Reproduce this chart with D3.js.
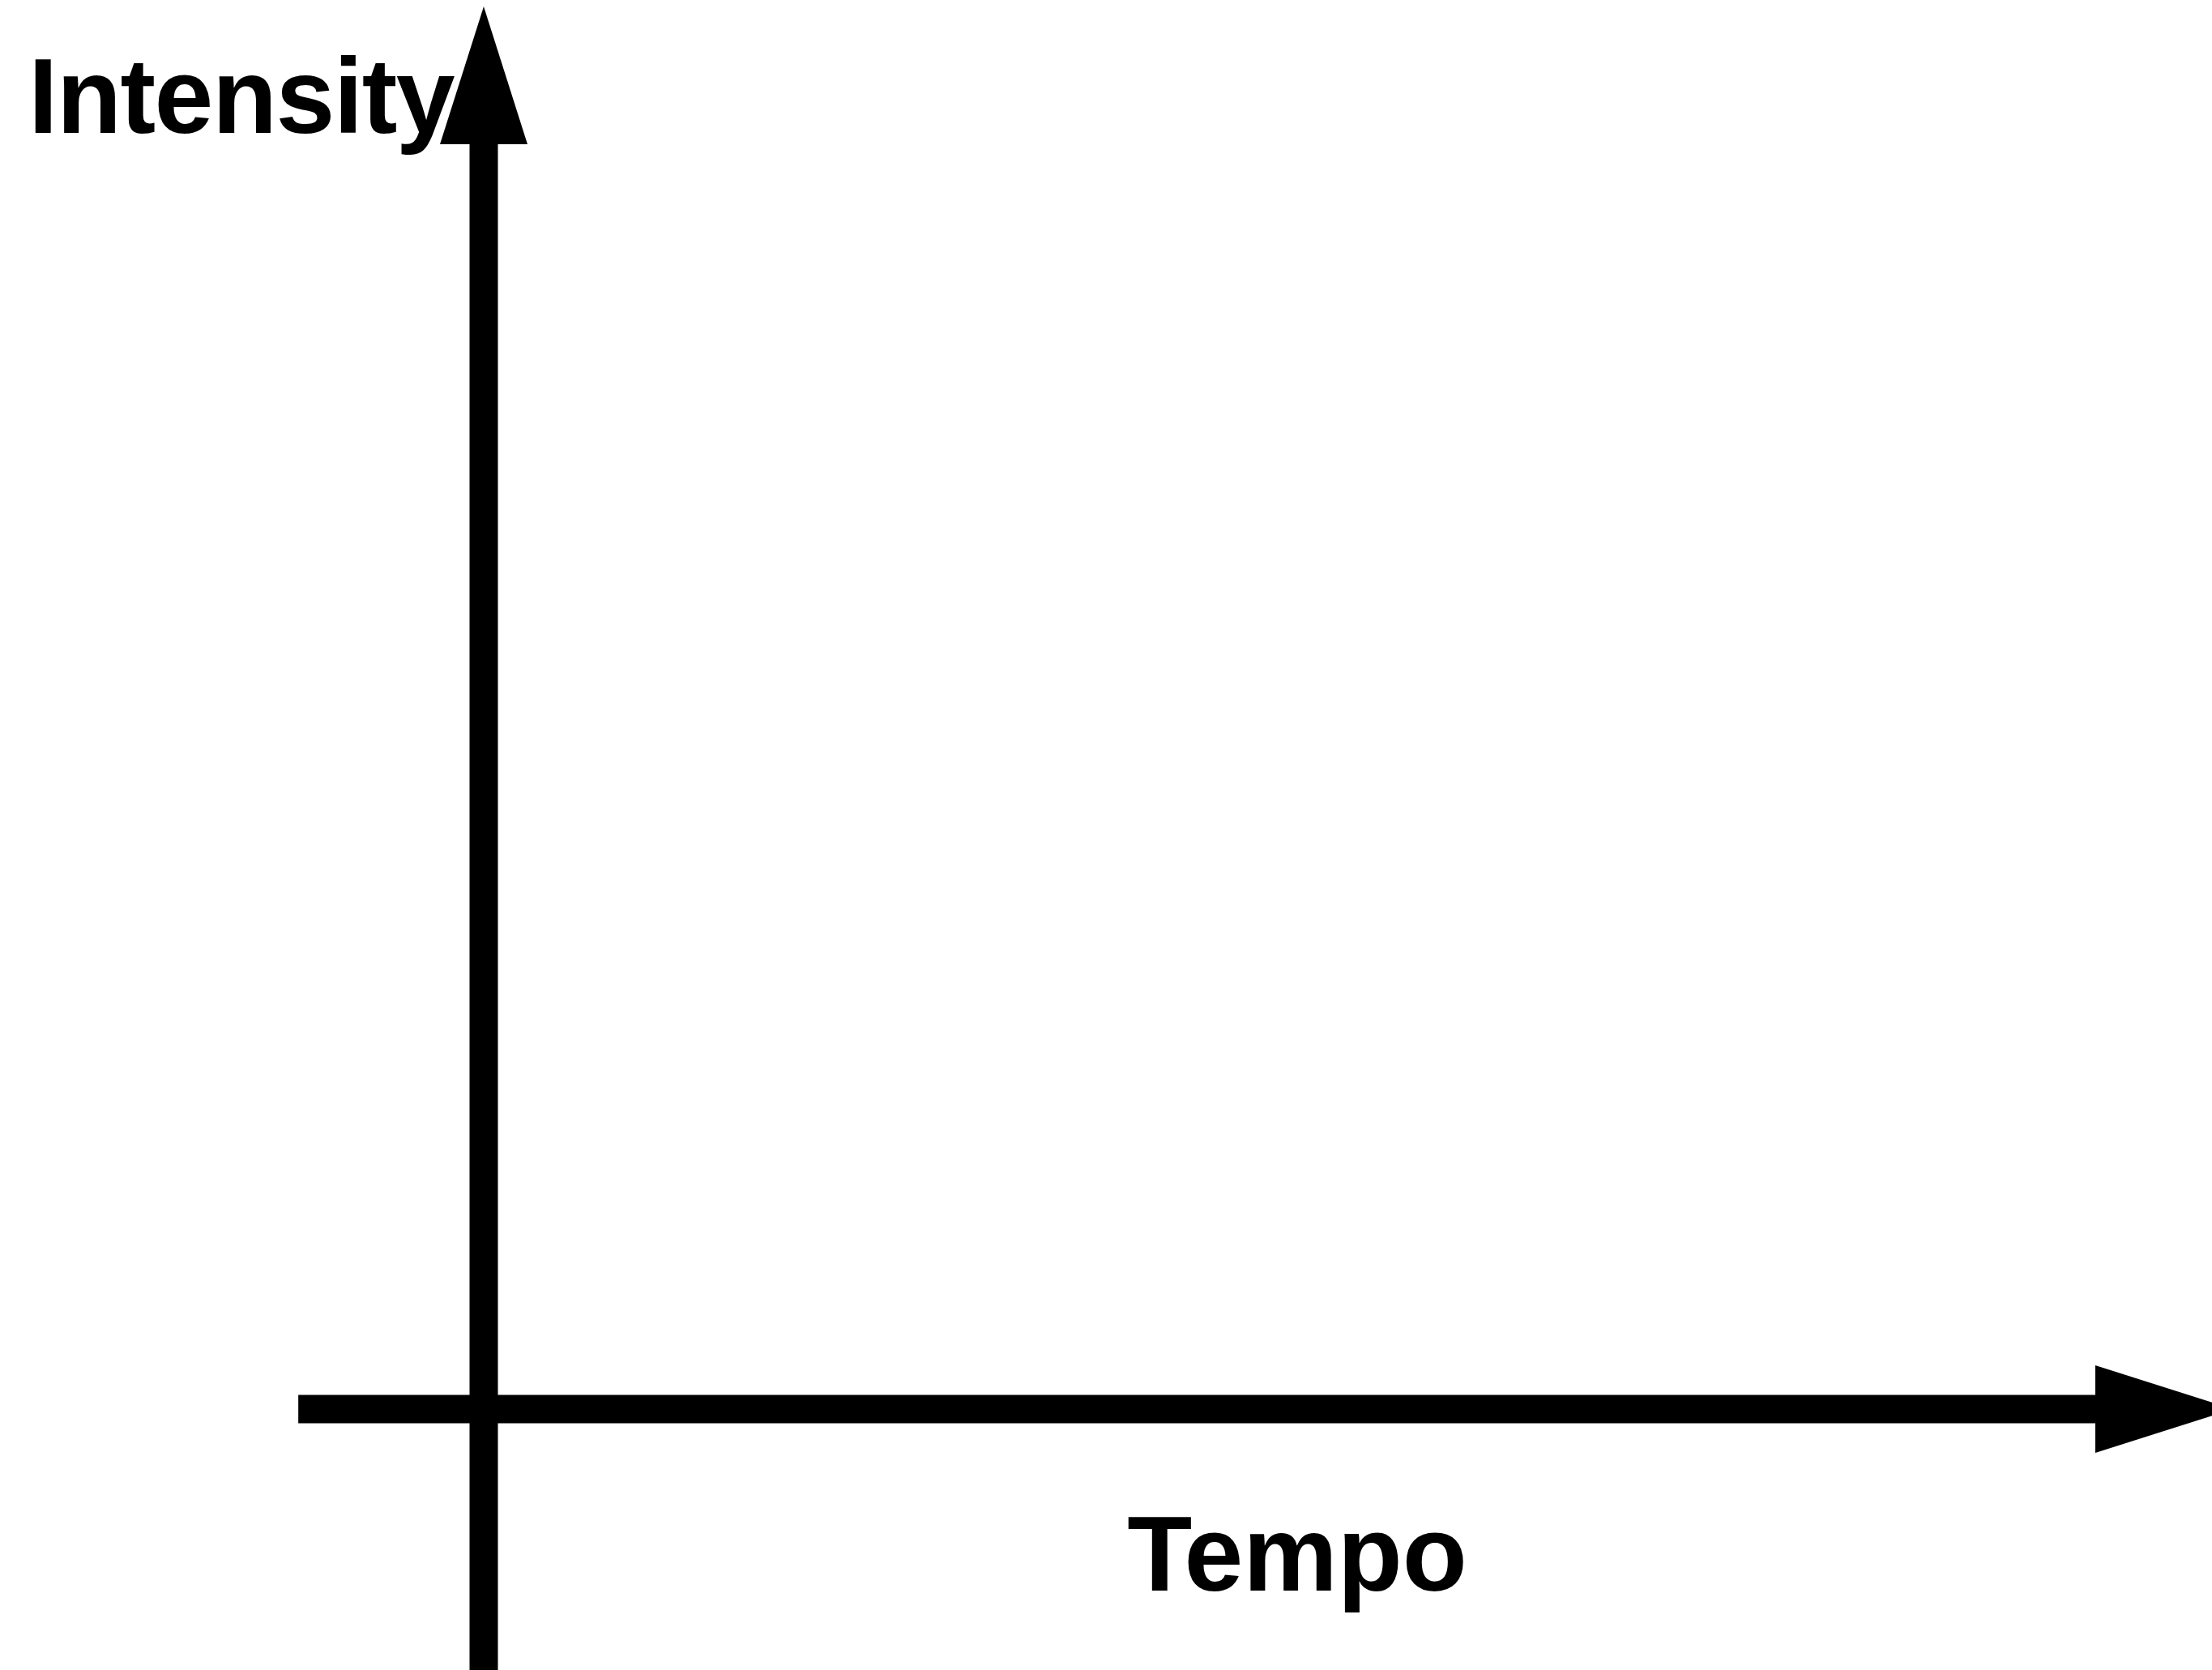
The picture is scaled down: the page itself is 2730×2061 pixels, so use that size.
<!DOCTYPE html>
<html>
<head>
<meta charset="utf-8">
<script src="https://cdn.jsdelivr.net/npm/d3@7"></script>
<style>
  html, body { margin: 0; padding: 0; background: #fff; }
  svg { display: block; }
</style>
</head>
<body>
<div id="chart"></div>
<script>
// axis labels
const xLabel = "Tempo";
const yLabel = "Intensity";

// axis extents (in data units, origin at 0)
const xExtent = [-0.106, 1];   // horizontal axis: starts a bit left of the origin
const yExtent = [-0.2, 1];     // vertical axis: runs past the bottom

const width = 2730;
const height = 2061;
const origin = { x: 597, y: 1739 };

const svg = d3.select("#chart").append("svg")
  .attr("width", width).attr("height", height);

const x = d3.scaleLinear().domain([0, 1]).range([origin.x, 2756]);
const y = d3.scaleLinear().domain([0, 1]).range([origin.y, 8]);

const strokeW = 35;
const headLen = 170;
const headHalf = 54;

// horizontal axis line + arrow
svg.append("line")
  .attr("x1", x(xExtent[0])).attr("y1", y(0))
  .attr("x2", x(xExtent[1]) - headLen + 1).attr("y2", y(0))
  .attr("stroke", "#000").attr("stroke-width", strokeW);

svg.append("path")
  .attr("d", d3.line()([
    [x(xExtent[1]), y(0)],
    [x(xExtent[1]) - headLen, y(0) - headHalf],
    [x(xExtent[1]) - headLen, y(0) + headHalf]
  ]) + "Z")
  .attr("fill", "#000");

// vertical axis line + arrow
svg.append("line")
  .attr("x1", x(0)).attr("y1", y(yExtent[0]))
  .attr("x2", x(0)).attr("y2", y(yExtent[1]) + headLen - 1)
  .attr("stroke", "#000").attr("stroke-width", strokeW);

svg.append("path")
  .attr("d", d3.line()([
    [x(0), y(yExtent[1])],
    [x(0) - headHalf, y(yExtent[1]) + headLen],
    [x(0) + headHalf, y(yExtent[1]) + headLen]
  ]) + "Z")
  .attr("fill", "#000");

// labels
const font = "'Liberation Sans', Arial, Helvetica, sans-serif";

svg.append("text")
  .attr("x", 35).attr("y", 164)
  .attr("font-family", font).attr("font-weight", "bold").attr("font-size", 131)
  .attr("letter-spacing", -1.5)
  .attr("fill", "#000")
  .text(yLabel);

svg.append("text")
  .attr("x", 1601).attr("y", 1963)
  .attr("text-anchor", "middle")
  .attr("font-family", font).attr("font-weight", "bold").attr("font-size", 131)
  .attr("fill", "#000")
  .text(xLabel);
</script>
</body>
</html>
